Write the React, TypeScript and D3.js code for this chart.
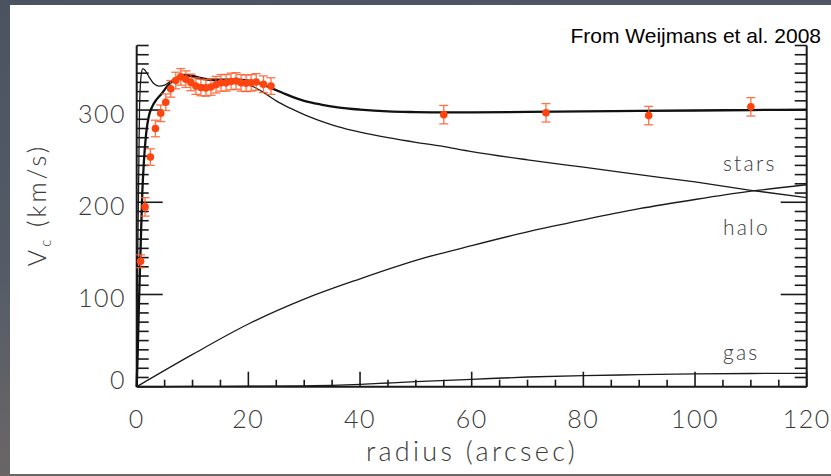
import React from "react";
import * as d3 from "d3";

// ---------- data ----------
const obsInnerR = [0.7, 1.5, 2.45, 3.35, 4.3, 5.2, 6.1, 7.0, 7.9, 8.8, 9.7, 10.6, 11.5, 12.4, 13.3, 14.2, 15.1, 16.0, 16.9, 17.8, 18.7, 19.6, 20.5, 21.4, 22.7, 24.05];
const obsInnerV = [136, 195, 249, 280, 296.5, 308.5, 323, 332, 336, 333.5, 330, 326, 324.5, 324, 325, 327.5, 329.5, 329.5, 331, 331.5, 329.5, 329, 329.5, 330.5, 328, 326];
const obsInnerErr = [7, 10, 9, 9, 9, 9, 9, 9, 9, 9, 9, 9, 9, 9, 9, 9, 9, 9, 9, 9, 9, 9, 9, 9, 9, 9];
const obsOuterR = [55, 73.3, 91.7, 110];
const obsOuterV = [295, 297, 294, 303.5];
const obsOuterErr = [10, 10, 10, 10];

const totalR = [0, 0.15, 0.4, 0.7, 1.0, 1.3, 1.7, 2.2, 2.8, 3.5, 4.5, 5.5, 6.5, 7.5, 8.5, 10, 12, 14, 16, 18, 20, 22, 24, 26, 28, 30, 33, 36, 40, 45, 50, 55, 60, 70, 80, 90, 100, 110, 120];
const totalV = [0, 30, 90, 150, 210, 245, 275, 294, 304, 311, 318, 326, 332, 336, 338, 337, 334, 333, 333, 333, 332, 329, 324, 319, 314, 310, 306, 303, 300.5, 298.5, 297.8, 297.5, 297.5, 298, 298.5, 299, 299.5, 300, 300.5];

const starsR = [0, 0.2, 0.5, 0.8, 1.1, 1.5, 2.2, 3.0, 4.0, 5.0, 6.0, 7.0, 8.0, 9.0, 10.5, 12, 14, 16, 18, 19.5, 21, 23, 25, 27.5, 30, 33, 36, 40, 45, 50, 54, 60, 70, 80, 90, 100, 110, 120];
const starsV = [0, 150, 300, 338, 345, 343, 336, 329, 326, 327, 331, 335, 337, 337, 335, 333, 332, 332, 331, 329, 325, 318, 310, 302, 295, 288, 282, 276, 270, 265, 261.5, 255, 246, 238, 230, 222, 213, 205];

const haloR = [0, 10, 20, 30, 40, 50, 60, 70, 80, 90, 100, 110, 120];
const haloV = [0, 35, 68, 95, 117, 137, 153, 168, 181, 193, 203, 212, 219];

const gasR = [0, 10, 20, 30, 35, 40, 45, 50, 60, 70, 80, 90, 100, 110, 120];
const gasV = [0, 0.3, 0.6, 1.0, 1.5, 2.5, 4, 5.5, 8, 10.5, 12, 13, 14, 14.3, 14.5];

const xTickLabels = [0, 20, 40, 60, 80, 100, 120];
const yTickLabels = [0, 100, 200, 300];
const curveLabels = ["stars", "halo", "gas"];
const curveLabelV = [233.5, 164, 29];

const W = 831;
const H = 476;

export default function App() {
  const x = d3.scaleLinear().domain([0, 120]).range([136.7, 806.7]);
  const y = d3.scaleLinear().domain([0, 370]).range([386.7, 45.5]);

  const mk = (rs: number[], vs: number[]) =>
    d3
      .line<number>()
      .x((_, i) => x(rs[i]))
      .y((_, i) => y(vs[i]))
      .curve(d3.curveMonotoneX)(rs.map((_, i) => i)) || "";

  const yMinor = d3.range(0, 371, 10);
  const xMinor = d3.range(0, 121, 5);

  const x0 = x(0);
  const x1 = x(120);
  const yb = y(0);
  const yt = y(370);

  const font = "Lato, 'DejaVu Sans', sans-serif";
  const txt = "#3a3a3a";
  const orange = "#ff4410";
  const errCol = "#ff5a28";

  const pts = [
    ...obsInnerR.map((r, i) => ({ r, v: obsInnerV[i], e: obsInnerErr[i] })),
    ...obsOuterR.map((r, i) => ({ r, v: obsOuterV[i], e: obsOuterErr[i] })),
  ];

  return (
    <svg
      width={W}
      height={H}
      style={{ position: "absolute", left: 0, top: 0, display: "block" }}
    >
      <defs>
        <linearGradient id="bg" x1="0" y1="0" x2="0.3" y2="1">
          <stop offset="0" stopColor="#4b5361" />
          <stop offset="0.5" stopColor="#545b67" />
          <stop offset="1" stopColor="#6e6866" />
        </linearGradient>
      </defs>
      <rect x={0} y={0} width={W} height={H} fill="url(#bg)" />
      <rect x={10} y={5} width={W - 10} height={469} fill="#ffffff" />

      {/* axes frame */}
      <g stroke="#1a1a1a" fill="none">
        <line x1={x0} y1={yb} x2={x0} y2={yt} strokeWidth={2} />
        <line x1={x1} y1={yb} x2={x1} y2={yt} strokeWidth={2} />
        <line x1={x0} y1={yb} x2={x1} y2={yb} strokeWidth={2} />
        {yMinor.map((v) => {
          const len = v % 100 === 0 ? 26 : 12;
          return (
            <g key={"yt" + v} strokeWidth={1.6}>
              <line x1={x0} x2={x0 + len} y1={y(v)} y2={y(v)} />
              <line x1={x1} x2={x1 - len} y1={y(v)} y2={y(v)} />
            </g>
          );
        })}
        {xMinor.map((r) => {
          const len = r % 20 === 0 ? 15 : 7;
          return (
            <line key={"xt" + r} x1={x(r)} x2={x(r)} y1={yb} y2={yb - len} strokeWidth={1.6} />
          );
        })}
      </g>

      {/* model curves */}
      <g fill="none" stroke="#1a1a1a">
        <path d={mk(starsR, starsV)} strokeWidth={1.3} />
        <path d={mk(haloR, haloV)} strokeWidth={1.3} />
        <path d={mk(gasR, gasV)} strokeWidth={1.3} />
        <path d={mk(totalR, totalV)} strokeWidth={2.3} stroke="#111" />
      </g>

      {/* data with error bars */}
      <g>
        {pts.map((p, i) => (
          <g key={"p" + i}>
            <g stroke={errCol} strokeWidth={1.3} opacity={0.85}>
              <line x1={x(p.r)} x2={x(p.r)} y1={y(p.v - p.e)} y2={y(p.v + p.e)} />
              <line x1={x(p.r) - 4.5} x2={x(p.r) + 4.5} y1={y(p.v - p.e)} y2={y(p.v - p.e)} />
              <line x1={x(p.r) - 4.5} x2={x(p.r) + 4.5} y1={y(p.v + p.e)} y2={y(p.v + p.e)} />
            </g>
            <circle cx={x(p.r)} cy={y(p.v)} r={3.8} fill={orange} />
          </g>
        ))}
      </g>

      {/* tick labels */}
      <g fontFamily={font} fontWeight={300} fontSize={25} fill={txt}>
        {yTickLabels.map((v) => (
          <text
            key={"yl" + v}
            x={126}
            y={Math.min(y(v) + 4, 380) + 9}
            textAnchor="end"
            letterSpacing={1.5}
          >
            {v}
          </text>
        ))}
        {xTickLabels.map((r) => (
          <text key={"xl" + r} x={x(r)} y={428} textAnchor="middle" letterSpacing={1.5}>
            {r}
          </text>
        ))}
        <text x={472} y={461} textAnchor="middle" fontSize={27} letterSpacing={3.3}>
          radius (arcsec)
        </text>
        <text
          transform={`translate(46,205) rotate(-90)`}
          textAnchor="middle"
          letterSpacing={3}
        >
          <tspan>V</tspan>
          <tspan fontSize={15} dy={5}>c</tspan>
          <tspan dy={-5}>{"  (km/s)"}</tspan>
        </text>
      </g>

      {/* curve labels */}
      <g fontFamily={font} fontWeight={300} fontSize={21} fill={txt}>
        {curveLabels.map((t, i) => (
          <text key={t} x={723} y={y(curveLabelV[i])} letterSpacing={2.2}>
            {t}
          </text>
        ))}
      </g>

      <text
        x={821}
        y={43}
        textAnchor="end"
        fontFamily="'Liberation Sans', Arial, sans-serif"
        fontSize={21}
        fill="#000"
      >
        From Weijmans et al. 2008
      </text>
    </svg>
  );
}
